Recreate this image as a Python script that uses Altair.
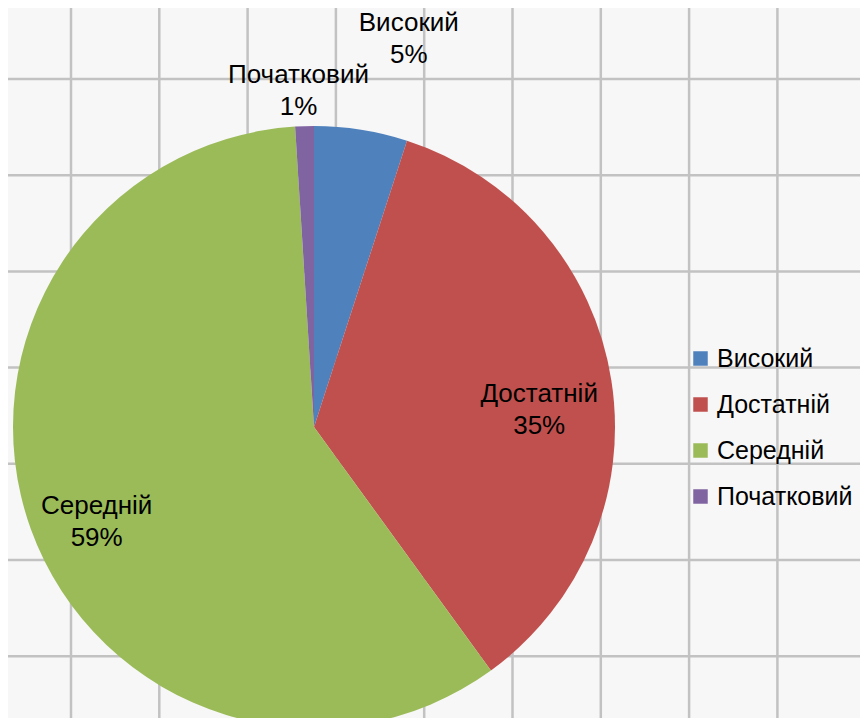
import altair as alt
import pandas as pd

# ---- data ----
categories = ["Високий", "Достатній", "Середній", "Початковий"]
percents = [5, 35, 59, 1]
colors = ["#4f81bd", "#c0504d", "#9bbb59", "#8064a2"]

# background grid-paper texture (line indices)
grid_cols = list(range(0, 10))
grid_rows = list(range(0, 7))

df = pd.DataFrame({
    "category": categories,
    "value": percents,
    "idx": list(range(len(categories))),
})
df["label"] = [f"{c}\n{v}%" for c, v in zip(categories, percents)]

W, H = 852, 710
CX, CY, R = 306, 419, 301
FONT = "Liberation Sans"

grid_v = alt.Chart(pd.DataFrame({"gx": grid_cols})).mark_rule(
    color="#c2c2c2", strokeWidth=2.5
).encode(
    x=alt.X("gx:Q", scale=alt.Scale(domain=[0, 1], range=[63, 151.3]), axis=None)
)
grid_h = alt.Chart(pd.DataFrame({"gy": grid_rows})).mark_rule(
    color="#c2c2c2", strokeWidth=2.5
).encode(
    y=alt.Y("gy:Q", scale=alt.Scale(domain=[0, 1], range=[71, 167.2]), axis=None)
)

theta = alt.Theta("value:Q", stack=True)
order = alt.Order("idx:Q", sort="ascending")

pie = alt.Chart(df).mark_arc(radius=R).encode(
    theta=theta,
    order=order,
    color=alt.Color(
        "category:N",
        scale=alt.Scale(domain=categories, range=colors),
        legend=alt.Legend(
            title=None,
            orient="none",
            legendX=680,
            legendY=338,
            symbolType="square",
            symbolSize=210,
            symbolStrokeWidth=0,
            labelFont=FONT,
            labelFontSize=25,
            labelColor="#000000",
            labelOffset=4,
            rowPadding=20,
            padding=0,
            labelLimit=300,
        ),
    ),
    x=alt.value(CX),
    y=alt.value(CY),
)


def label_layer(cat, radius, dx, dy):
    return alt.Chart(df).transform_calculate(
        txt=f"datum.category == '{cat}' ? datum.label : ''"
    ).mark_text(
        radius=radius, dx=dx, dy=dy, fontSize=26, font=FONT, color="#000000",
        lineBreak="\n", lineHeight=32, align="center", baseline="middle",
    ).encode(
        theta=theta,
        order=order,
        text=alt.Text("txt:N"),
        x=alt.value(CX),
        y=alt.value(CY),
    )


labels = [
    label_layer("Високий", 395, 33, -14),
    label_layer("Достатній", 228, 0, 3),
    label_layer("Середній", 231, 0, 1),
    label_layer("Початковий", 335, -5, -17),
]

chart = alt.layer(grid_v, grid_h, pie, *labels).properties(
    width=W, height=H, padding=0, autosize="none"
).configure(
    background="#f7f7f7"
).configure_view(
    stroke=None, fill="#f7f7f7"
)

chart.save("out.html", embed_options={"renderer": "svg", "actions": False})
